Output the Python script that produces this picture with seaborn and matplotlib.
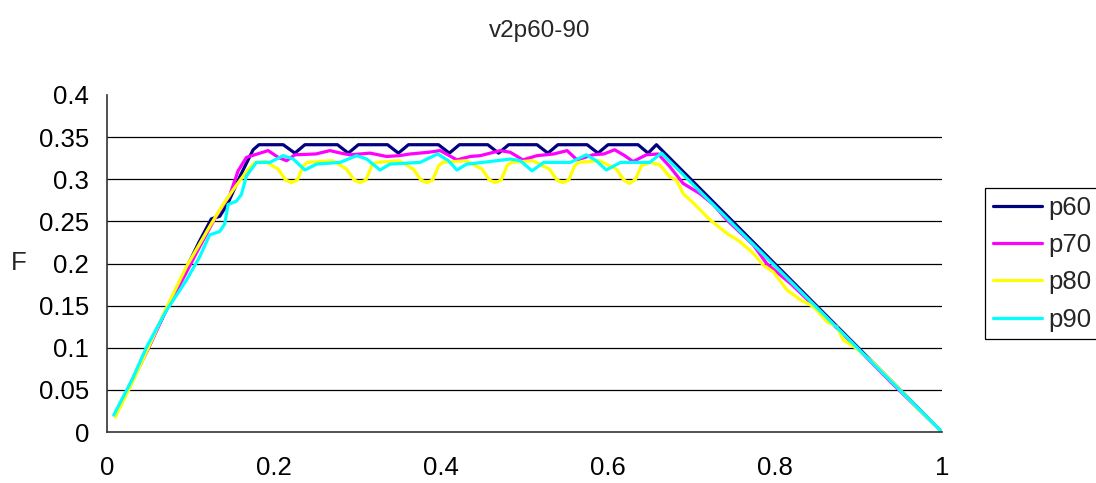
import numpy as np
import pandas as pd
import matplotlib
matplotlib.use("Agg")
import matplotlib.pyplot as plt
import seaborn as sns
from matplotlib.lines import Line2D

title = "v2p60-90"
series_names = ["p60", "p70", "p80", "p90"]
series_colors = ["#000080", "#FF00FF", "#FFFF00", "#00FFFF"]
x_ticks = [0, 0.2, 0.4, 0.6, 0.8, 1]
x_tick_labels = ["0", "0.2", "0.4", "0.6", "0.8", "1"]
y_ticks = [0, 0.05, 0.1, 0.15, 0.2, 0.25, 0.3, 0.35, 0.4]
y_tick_labels = ["0", "0.05", "0.1", "0.15", "0.2", "0.25", "0.3", "0.35", "0.4"]

p60_x = [0.01, 0.03, 0.05, 0.07, 0.09, 0.11, 0.125, 0.135, 0.145, 0.16, 0.175, 0.182,
         0.211, 0.225, 0.237, 0.276, 0.289, 0.301, 0.336, 0.349, 0.361, 0.397, 0.41, 0.422,
         0.456, 0.469, 0.481, 0.515, 0.528, 0.540, 0.575, 0.588, 0.600, 0.636, 0.648, 0.658, 1.0]
p60_y = [0.02, 0.061, 0.102, 0.143, 0.184, 0.225, 0.253, 0.256, 0.272, 0.305, 0.335, 0.341,
         0.341, 0.331, 0.341, 0.341, 0.331, 0.341, 0.341, 0.331, 0.341, 0.341, 0.331, 0.341,
         0.341, 0.331, 0.341, 0.341, 0.331, 0.341, 0.341, 0.331, 0.341, 0.341, 0.331, 0.341, 0.0]

p70_x = [0.01, 0.03, 0.05, 0.07, 0.09, 0.11, 0.13, 0.147, 0.157, 0.167, 0.18, 0.193, 0.205,
         0.215, 0.225, 0.25, 0.267, 0.28, 0.291, 0.315, 0.335, 0.35, 0.363, 0.385, 0.399,
         0.41, 0.419, 0.435, 0.447, 0.471, 0.483, 0.498, 0.515, 0.535, 0.551, 0.563, 0.582,
         0.595, 0.608, 0.62, 0.63, 0.646, 0.66, 0.674, 0.69, 0.71, 0.726, 0.742, 0.774, 0.79,
         0.82, 0.86, 0.9, 0.94, 1.0]
p70_y = [0.02, 0.06, 0.10, 0.143, 0.18, 0.218, 0.255, 0.281, 0.310, 0.326, 0.330, 0.334, 0.326,
         0.322, 0.329, 0.330, 0.334, 0.331, 0.329, 0.331, 0.327, 0.328, 0.330, 0.332, 0.334,
         0.328, 0.323, 0.327, 0.328, 0.334, 0.332, 0.323, 0.328, 0.330, 0.334, 0.323, 0.329,
         0.330, 0.335, 0.328, 0.321, 0.329, 0.330, 0.315, 0.295, 0.283, 0.270, 0.252, 0.222, 0.200,
         0.175, 0.137, 0.098, 0.058, 0.0]

p80_x = [0.01, 0.03, 0.05, 0.07, 0.095, 0.123, 0.139, 0.155, 0.167, 0.177,
         0.19, 0.205, 0.214, 0.221, 0.228, 0.235, 0.24,
         0.27, 0.287, 0.296, 0.303, 0.310, 0.317, 0.322,
         0.35, 0.367, 0.376, 0.383, 0.390, 0.397, 0.402,
         0.43, 0.449, 0.458, 0.465, 0.472, 0.479, 0.484,
         0.51, 0.530, 0.539, 0.546, 0.553, 0.560, 0.565,
         0.59, 0.610, 0.619, 0.626, 0.633, 0.640,
         0.650, 0.662, 0.674, 0.682, 0.69, 0.702, 0.722, 0.742, 0.758, 0.774, 0.786, 0.798,
         0.814, 0.83, 0.846, 0.862, 0.874, 0.882, 0.898, 0.918, 0.946, 0.97, 1.0]
p80_y = [0.018, 0.058, 0.101, 0.145, 0.196, 0.244, 0.270, 0.293, 0.309, 0.320,
         0.321, 0.312, 0.299, 0.296, 0.299, 0.316, 0.320,
         0.322, 0.312, 0.299, 0.296, 0.299, 0.316, 0.320,
         0.322, 0.312, 0.299, 0.296, 0.299, 0.316, 0.320,
         0.322, 0.312, 0.299, 0.296, 0.299, 0.316, 0.320,
         0.322, 0.312, 0.299, 0.296, 0.299, 0.316, 0.320,
         0.322, 0.312, 0.299, 0.295, 0.300, 0.316,
         0.320, 0.317, 0.303, 0.299, 0.283, 0.272, 0.252, 0.236, 0.226, 0.212, 0.198, 0.190,
         0.169, 0.157, 0.149, 0.131, 0.125, 0.109, 0.099, 0.082, 0.054, 0.029, 0.0]

p90_x = [0.008, 0.03, 0.0475, 0.071, 0.095, 0.111, 0.123, 0.135, 0.141, 0.145, 0.155, 0.161,
         0.167, 0.179, 0.195, 0.211, 0.223, 0.237, 0.251, 0.279, 0.299, 0.311, 0.327, 0.339,
         0.375, 0.396, 0.409, 0.419, 0.431, 0.45, 0.483, 0.495, 0.509, 0.523, 0.555, 0.574,
         0.586, 0.598, 0.615, 0.650, 0.664, 1.0]
p90_y = [0.020, 0.062, 0.101, 0.144, 0.180, 0.208, 0.234, 0.238, 0.247, 0.270, 0.274, 0.282,
         0.304, 0.320, 0.320, 0.328, 0.324, 0.311, 0.318, 0.320, 0.328, 0.324, 0.311, 0.318,
         0.320, 0.330, 0.322, 0.311, 0.318, 0.320, 0.324, 0.322, 0.310, 0.320, 0.320, 0.329,
         0.322, 0.311, 0.320, 0.320, 0.331, 0.0]

frames = []
for name, xs, ys in zip(series_names, [p60_x, p70_x, p80_x, p90_x], [p60_y, p70_y, p80_y, p90_y]):
    frames.append(pd.DataFrame({"x": xs, "F": ys, "series": name}))
df = pd.concat(frames, ignore_index=True)

sns.set_theme(style="white")
plt.rcParams["font.family"] = ["Liberation Sans", "DejaVu Sans"]

fig = plt.figure(figsize=(10.96, 4.83), dpi=100)
ax = fig.add_axes([107 / 1096, 1 - 432 / 483, (942 - 107) / 1096, (432 - 95) / 483])

sns.lineplot(data=df, x="x", y="F", hue="series", hue_order=series_names,
             palette=dict(zip(series_names, series_colors)), sort=False, estimator=None,
             units="series", linewidth=2.3, ax=ax, legend=False,
             solid_joinstyle="round", solid_capstyle="round")

ax.set_xlim(0, 1)
ax.set_ylim(0, 0.4)
ax.set_xticks(x_ticks)
ax.set_xticklabels(x_tick_labels)
ax.set_yticks(y_ticks)
ax.set_yticklabels(y_tick_labels)
for yv in y_ticks[1:-1]:
    ax.axhline(yv, color="black", linewidth=0.9, zorder=0)
ax.grid(False)
for s in ["top", "right"]:
    ax.spines[s].set_visible(False)
for s in ["left", "bottom"]:
    ax.spines[s].set_color("#333333")
    ax.spines[s].set_linewidth(1.2)
ax.tick_params(axis="both", direction="in", length=6, width=1, color="#333333",
               labelsize=18.5, colors="black")
ax.tick_params(axis="x", pad=17)
ax.tick_params(axis="y", pad=13)
ax.set_xlabel("")
ax.set_ylabel("F", fontsize=18.5, rotation=0, va="center")
ax.yaxis.set_label_coords(-0.106, 0.5)

fig.text(540 / 1096, 1 - 31 / 483, title, fontsize=17.5, ha="center", va="center")

handles = [Line2D([0], [0], color=c, linewidth=2.3) for c in series_colors]
leg = fig.legend(handles, series_names, loc="upper left",
                 bbox_to_anchor=(985 / 1096, 1 - 188 / 483), fontsize=18.5,
                 frameon=True, fancybox=False, edgecolor="black", framealpha=1,
                 handlelength=1.9, handletextpad=0.25, labelspacing=0.52,
                 borderpad=0.3, borderaxespad=0)
leg.get_frame().set_linewidth(0.9)

fig.savefig("out.png", dpi=100)
